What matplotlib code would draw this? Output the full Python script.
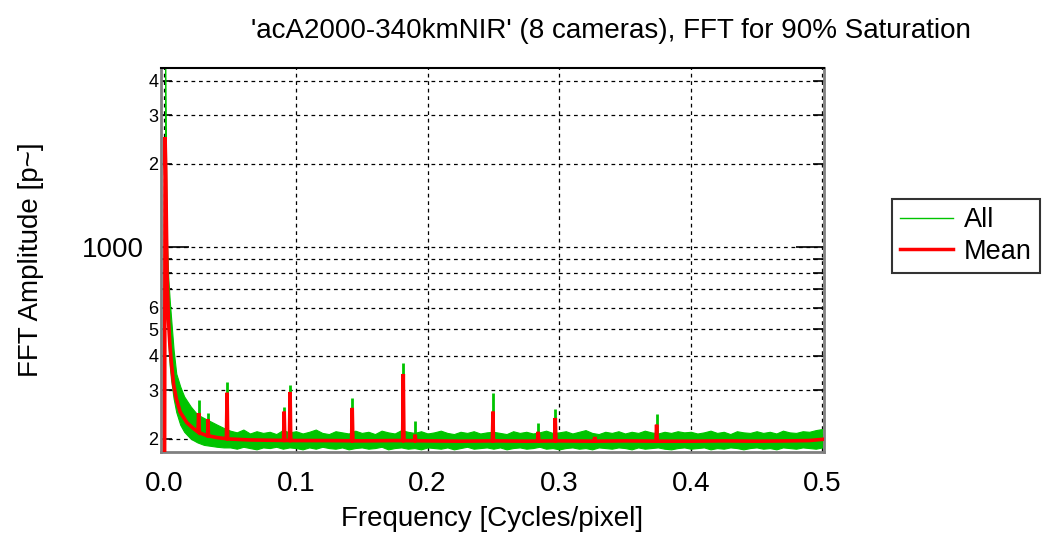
import matplotlib
matplotlib.use("Agg")
import matplotlib.pyplot as plt
from matplotlib.lines import Line2D
import numpy as np

plt.rcParams['font.family'] = ['Liberation Sans', 'DejaVu Sans']

# ---------------- data ----------------
title = "'acA2000-340kmNIR' (8 cameras), FFT for 90% Saturation"

# Mean curve: low-frequency decay
mean_low_freq = [0.0, 0.0005, 0.001, 0.0015, 0.002, 0.003, 0.004, 0.005, 0.007,
                 0.009, 0.012, 0.017, 0.022, 0.027, 0.033, 0.040, 0.050, 0.065]
mean_low_val = [60, 2500, 1870, 1200, 800, 550, 450, 390, 315,
                280, 250, 229, 218, 210, 205, 202, 199.5, 198]

# Mean curve: flat floor
mean_floor_freq = [0.08, 0.10, 0.125, 0.15, 0.175, 0.20, 0.225, 0.25, 0.275, 0.30,
                   0.325, 0.35, 0.375, 0.40, 0.425, 0.45, 0.475, 0.49, 0.5]
mean_floor_val = [197.5, 197, 197, 196.5, 197, 196.5, 196, 196.5, 196, 196.5,
                  196, 196.5, 196, 196, 196.5, 196, 196.5, 197, 199]

# Single-bin peaks: frequency, mean amplitude, max amplitude over all cameras
peak_freq = [0.026, 0.033, 0.0476, 0.091, 0.0955, 0.1427, 0.1815, 0.1905,
             0.2497, 0.284, 0.297, 0.327, 0.374]
peak_mean = [248, 235, 294, 251, 296, 259, 344, 207, 251, 212, 238, 203, 225]
peak_all = [277, 248, 322, 262, 314, 282, 377, 232, 294, 228, 257, 206, 246]

# "All" cameras band: low-frequency envelope
all_low_freq = [0.0005, 0.001, 0.0015, 0.002, 0.003, 0.004, 0.005, 0.007, 0.009,
                0.012, 0.015, 0.020, 0.025, 0.030, 0.040, 0.045]
all_low_upper = [5200, 2700, 1500, 1000, 760, 640, 555, 420, 345,
                 310, 285, 262, 245, 238, 225, 219]
all_low_lower = [1900, 1400, 900, 650, 450, 370, 330, 280, 250,
                 225, 212, 200, 194, 190, 187, 186]

# "All" cameras band: envelope from 0.05 to 0.5 (step 0.005)
all_hi_upper = [214, 211, 216, 209, 213, 210, 212, 208, 215, 211,
                213, 209, 212, 216, 210, 208, 213, 211, 209, 214,
                210, 212, 208, 214, 211, 209, 215, 212, 210, 213,
                209, 211, 214, 210, 208, 212, 210, 213, 209, 211,
                212, 210, 208, 213, 210, 212, 209, 211, 214, 210,
                211, 213, 209, 212, 215, 210, 208, 212, 210, 213,
                209, 212, 210, 214, 211, 209, 212, 210, 213, 211,
                212, 209, 211, 214, 210, 212, 208, 213, 211, 210,
                213, 210, 212, 209, 214, 211, 210, 213, 212, 215, 217]
all_hi_lower = [186, 184, 187, 185, 183, 186, 185, 187, 184, 186,
                185, 183, 186, 184, 187, 185, 184, 186, 183, 185,
                186, 184, 185, 187, 183, 185, 186, 184, 185, 183,
                186, 185, 184, 186, 183, 185, 187, 184, 185, 186,
                184, 186, 183, 185, 186, 184, 185, 187, 184, 185,
                183, 185, 186, 184, 185, 183, 186, 185, 184, 186,
                185, 183, 186, 184, 185, 186, 184, 183, 185, 186,
                184, 185, 186, 183, 185, 184, 186, 185, 183, 185,
                186, 184, 185, 183, 186, 185, 184, 186, 185, 184, 186]
all_hi_start, all_hi_step = 0.05, 0.005

x_ticks = [0.0, 0.1, 0.2, 0.3, 0.4, 0.5]
x_ticklabels = ["0.0", "0.1", "0.2", "0.3", "0.4", "0.5"]
y_major = [1000]
y_major_labels = ["1000"]
y_minor = [200, 300, 400, 500, 600, 700, 800, 900, 2000, 3000, 4000]
y_minor_labels = ["2", "3", "4", "5", "6", "", "", "", "2", "3", "4"]

# ---------------- build series ----------------
GREEN = '#00C400'
RED = '#FF0000'

m_f = list(mean_low_freq) + list(mean_floor_freq)
m_v = list(mean_low_val) + list(mean_floor_val)
base_f = np.array(m_f)
base_v = np.array(m_v)
for f, v in zip(peak_freq, peak_mean):
    b = float(np.interp(f, base_f, base_v))
    m_f += [f - 0.0005, f, f + 0.0005]
    m_v += [b, v, b]
order = np.argsort(m_f, kind='stable')
m_f = np.array(m_f)[order]
m_v = np.array(m_v)[order]

hi_f = all_hi_start + all_hi_step * np.arange(len(all_hi_upper))
band_f = np.concatenate([all_low_freq, hi_f])
band_u = np.concatenate([all_low_upper, all_hi_upper])
band_l = np.concatenate([all_low_lower, all_hi_lower])

# ---------------- figure ----------------
fig = plt.figure(figsize=(10.45, 5.59), dpi=100)
ax = fig.add_axes([161 / 1045, 1 - 452 / 559, 663 / 1045, 384 / 559])
ax.set_yscale('log')

ax.fill_between(band_f, band_l, band_u, color=GREEN, linewidth=0.8,
                edgecolor=GREEN, zorder=2)
ax.vlines(peak_freq, 200, peak_all, color=GREEN, linewidth=2, zorder=2)
ax.plot(m_f, m_v, color=RED, linewidth=2.6, zorder=3, solid_joinstyle='miter')

ax.set_xlim(-0.0026, 0.5012)
ax.set_ylim(179, 4460)

ax.set_xticks(x_ticks)
ax.set_xticklabels(x_ticklabels)
ax.set_yticks(y_major)
ax.set_yticklabels(y_major_labels)
ax.set_yticks(y_minor, minor=True)
ax.set_yticklabels(y_minor_labels, minor=True)

ax.tick_params(axis='x', which='major', direction='in', length=6, labelsize=20,
               pad=14, top=False)
ax.tick_params(axis='x', which='minor', length=0)
ax.tick_params(axis='y', which='major', direction='in', length=20, width=1.2,
               labelsize=20, pad=12, right=True)
ax.tick_params(axis='y', which='minor', direction='in', length=8, width=1.2,
               labelsize=13, pad=2, right=True)

ax.grid(True, which='both', axis='y', color='black', linestyle=(0, (3, 3)),
        linewidth=0.9, zorder=1)
ax.grid(True, which='major', axis='x', color='black', linestyle=(0, (3, 3)),
        linewidth=0.9, zorder=1)
ax.set_axisbelow(True)

for s in ['left', 'right', 'bottom']:
    ax.spines[s].set_color('#808080')
    ax.spines[s].set_linewidth(2)
ax.spines['top'].set_color('black')
ax.spines['top'].set_linewidth(1.5)

ax.set_xlabel("Frequency [Cycles/pixel]", fontsize=20)
ax.xaxis.set_label_coords(0.5, -0.14)
ax.xaxis.label.set_va('top')
ax.set_ylabel("FFT Amplitude [p~]", fontsize=20)
ax.yaxis.set_label_coords(-0.176, 0.5)

fig.text(611 / 1045, 1 - 31 / 559, title, fontsize=20, ha='center', va='center')

handles = [Line2D([], [], color=GREEN, linewidth=1),
           Line2D([], [], color=RED, linewidth=2.5)]
leg = fig.legend(handles, ["All", "Mean"], loc='upper left',
                 bbox_to_anchor=(892 / 1045, 1 - 199 / 559), fontsize=19.5,
                 frameon=True, fancybox=False, handlelength=1.95,
                 borderpad=0.3, labelspacing=0.2, handletextpad=0.4,
                 borderaxespad=0)
leg.get_frame().set_edgecolor('black')
leg.get_frame().set_linewidth(1.5)

fig.savefig("out.png", dpi=100)
